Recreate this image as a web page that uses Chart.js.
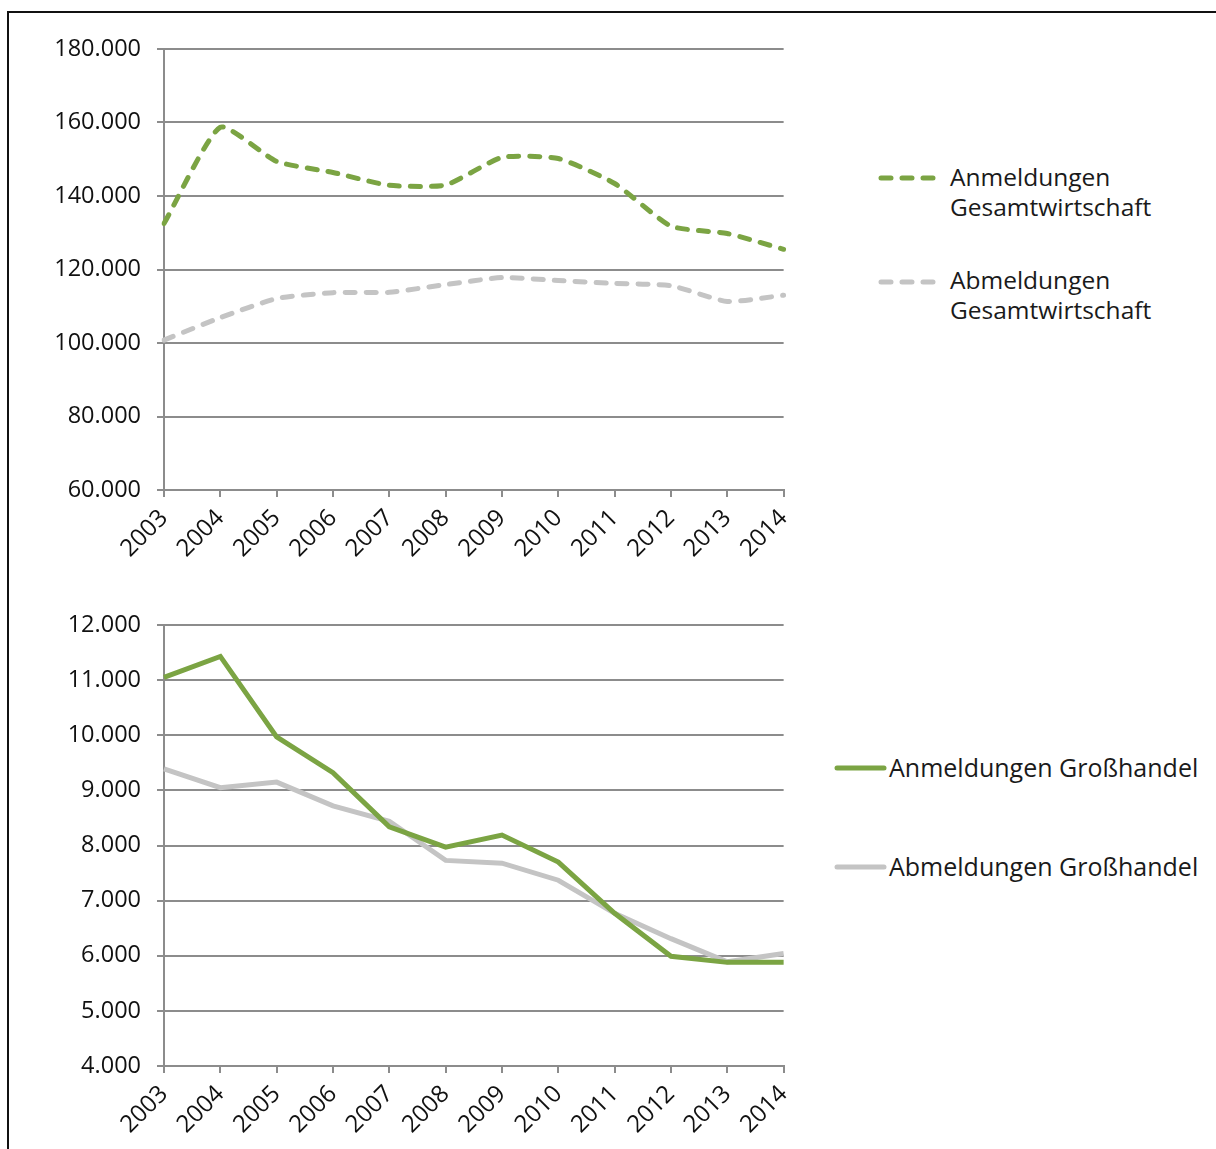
<!DOCTYPE html>
<html>
<head>
<meta charset="utf-8">
<script src="https://cdn.jsdelivr.net/npm/chart.js@4/dist/chart.umd.min.js"></script>
<style>
  body { margin: 0; background: #fff; width: 1216px; height: 1149px; overflow: hidden; position: relative; font-family: "Open Sans", sans-serif; color: #1a1a1a; }
  #frame { position: absolute; left: 7px; top: 11px; width: 1220px; height: 1150px; border-top: 2px solid #111; border-left: 2px solid #111; }
  .wrap { position: absolute; left: 8px; width: 803px; }
  #top { top: 14px; height: 566px; }
  #bottom { top: 590px; height: 566px; }
  .legend { position: absolute; font-size: 24.5px; line-height: 30px; }
  .legend .item { position: absolute; white-space: nowrap; }
  .legend .wide { font-size: 25px; }
</style>
</head>
<body>
<div id="frame"></div>
<div class="wrap" id="top"><canvas id="chartTop" width="803" height="566"></canvas></div>
<div class="wrap" id="bottom"><canvas id="chartBottom" width="803" height="566"></canvas></div>

<div class="legend">
  <div class="item" style="left:950px; top:162px;">Anmeldungen<br>Gesamtwirtschaft</div>
  <div class="item" style="left:950px; top:265px;">Abmeldungen<br>Gesamtwirtschaft</div>
  <div class="item wide" style="left:889px; top:752px;">Anmeldungen Großhandel</div>
  <div class="item wide" style="left:889px; top:851px;">Abmeldungen Großhandel</div>
</div>
<canvas id="legendTop" width="80" height="140" style="position:absolute; left:870px; top:160px;"></canvas>
<canvas id="legendBottom" width="70" height="130" style="position:absolute; left:828px; top:750px;"></canvas>

<script>
const years = ['2003','2004','2005','2006','2007','2008','2009','2010','2011','2012','2013','2014'];

const anmeldungenGesamt = [132500, 158700, 149400, 146400, 142900, 143000, 150500, 150200, 143400, 131800, 129800, 125500];
const abmeldungenGesamt = [100800, 106900, 112100, 113700, 113800, 115900, 117800, 117000, 116200, 115600, 111300, 113000];

const anmeldungenGross = [11050, 11430, 9970, 9320, 8340, 7970, 8190, 7700, 6770, 5990, 5880, 5880];
const abmeldungenGross = [9390, 9050, 9150, 8720, 8440, 7730, 7680, 7370, 6770, 6310, 5890, 6040];

const green = '#7ba443';
const grey = '#c4c4c4';
const gridColor = '#8c8c8c';

function fmt(v) {
    return String(v).replace(/\B(?=(\d{3})+(?!\d))/g, '.');
}

function makeOptions(min, max, step) {
    return {
        responsive: false,
        animation: false,
        layout: { padding: { top: 35, right: 18, left: 0, bottom: 0 } },
        plugins: { legend: { display: false }, tooltip: { enabled: false } },
        elements: { point: { radius: 0 } },
        scales: {
            x: {
                offset: false,
                afterFit: function (scale) { scale.height = 90; },
                grid: { display: true, drawOnChartArea: false, drawTicks: true, tickLength: 7, color: gridColor, lineWidth: 2 },
                border: { display: true, color: gridColor, width: 2 },
                ticks: {
                    autoSkip: false, minRotation: 45, maxRotation: 45, padding: 7,
                    color: '#111', font: { family: 'Open Sans', size: 24 }
                }
            },
            y: {
                min: min, max: max,
                afterFit: function (scale) { scale.width = 156; },
                grid: { color: gridColor, lineWidth: 2, tickLength: 7 },
                border: { display: true, color: gridColor, width: 2 },
                ticks: {
                    stepSize: step, padding: 16,
                    color: '#111', font: { family: 'Open Sans', size: 23.5 },
                    callback: function (v) { return fmt(v); }
                }
            }
        }
    };
}

new Chart(document.getElementById('chartTop'), {
    type: 'line',
    data: {
        labels: years,
        datasets: [
            { label: 'Anmeldungen Gesamtwirtschaft', data: anmeldungenGesamt, borderColor: green, borderWidth: 5, borderDash: [10, 11], borderCapStyle: 'round', tension: 0.18, fill: false },
            { label: 'Abmeldungen Gesamtwirtschaft', data: abmeldungenGesamt, borderColor: grey, borderWidth: 5, borderDash: [10, 11], borderCapStyle: 'round', tension: 0.18, fill: false }
        ]
    },
    options: makeOptions(60000, 180000, 20000)
});

new Chart(document.getElementById('chartBottom'), {
    type: 'line',
    data: {
        labels: years,
        datasets: [
            { label: 'Anmeldungen Großhandel', data: anmeldungenGross, borderColor: green, borderWidth: 5, tension: 0, fill: false },
            { label: 'Abmeldungen Großhandel', data: abmeldungenGross, borderColor: grey, borderWidth: 5, tension: 0, fill: false }
        ]
    },
    options: makeOptions(4000, 12000, 1000)
});

// legend swatches
function swatch(ctx, x1, x2, y, color, dash) {
    ctx.beginPath();
    ctx.setLineDash(dash);
    ctx.lineCap = 'round';
    ctx.lineWidth = 5;
    ctx.strokeStyle = color;
    ctx.moveTo(x1, y);
    ctx.lineTo(x2, y);
    ctx.stroke();
}
const lt = document.getElementById('legendTop').getContext('2d');
swatch(lt, 11, 66, 18, green, [10, 11]);
swatch(lt, 11, 66, 122, grey, [10, 11]);
const lb = document.getElementById('legendBottom').getContext('2d');
swatch(lb, 9, 56, 18, green, []);
swatch(lb, 9, 56, 117, grey, []);
</script>
</body>
</html>
